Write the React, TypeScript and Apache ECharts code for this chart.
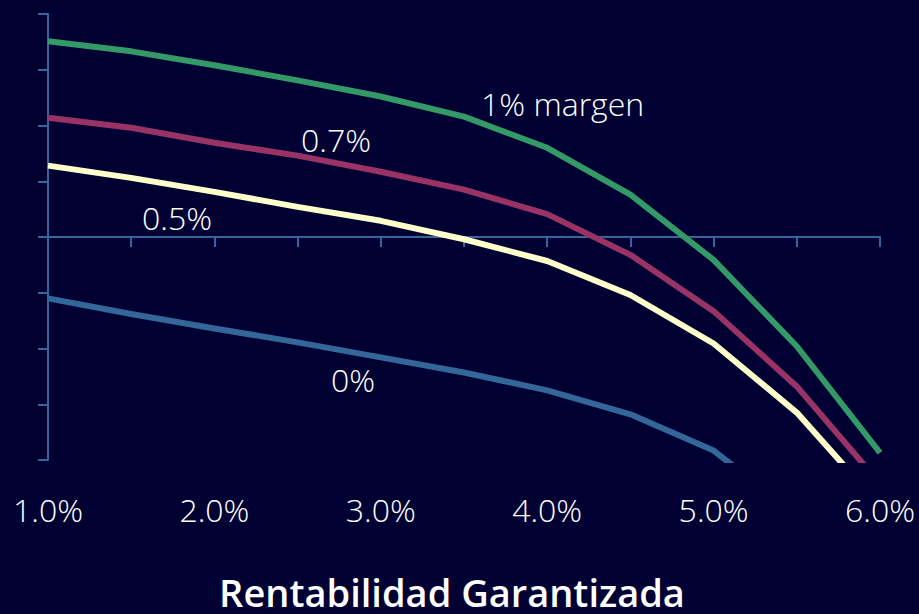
import React, { useEffect, useRef } from "react";
import * as echarts from "echarts";

const rates = [1.0, 1.5, 2.0, 2.5, 3.0, 3.5, 4.0, 4.5, 5.0, 5.5, 6.0];
const margin1 = [3.51, 3.33, 3.08, 2.81, 2.52, 2.16, 1.6, 0.76, -0.41, -1.96, -3.87];
const margin07 = [2.14, 1.96, 1.69, 1.46, 1.17, 0.85, 0.41, -0.32, -1.33, -2.68, -4.42];
const margin05 = [1.28, 1.06, 0.81, 0.54, 0.29, -0.04, -0.43, -1.04, -1.91, -3.15, -4.82];
const margin0 = [-1.1, -1.38, -1.64, -1.89, -2.16, -2.43, -2.75, -3.18, -3.83, -5.0, -6.2];
const seriesNames = ["1% margen", "0.7%", "0.5%", "0%"];
const xTitle = "Rentabilidad Garantizada";

const FONT = "'Open Sans', 'DejaVu Sans', sans-serif";

export default function App() {
  const ref = useRef<HTMLDivElement>(null);
  useEffect(() => {
    if (!ref.current) return;
    const chart = echarts.init(ref.current, undefined, { renderer: "svg" });
    const mk = (vals: number[]) => rates.map((r, i) => [r, vals[i]]);
    const lineSeries = (name: string, vals: number[], color: string) => ({
      name,
      type: "line",
      data: mk(vals),
      showSymbol: false,
      clip: true,
      lineStyle: { color, width: 6 },
      xAxisIndex: 0,
      yAxisIndex: 0,
    });
    const labelStyle = {
      fill: "#ffffff",
      font: `300 32px ${FONT}`,
      textAlign: "left",
      textVerticalAlign: "middle",
    };
    chart.setOption({
      animation: false,
      backgroundColor: "#000033",
      grid: { left: 48, right: 39, top: 14, bottom: 154 },
      xAxis: [
        {
          type: "value",
          min: 1,
          max: 6,
          interval: 0.5,
          axisLine: { onZero: true, lineStyle: { color: "#336699", width: 2 } },
          axisTick: { show: true, length: 10, inside: false, lineStyle: { color: "#336699", width: 2 } },
          axisLabel: { show: false },
          splitLine: { show: false },
        },
        {
          type: "value",
          min: 1,
          max: 6,
          interval: 1,
          position: "bottom",
          axisLine: { show: false, onZero: false },
          axisTick: { show: false },
          splitLine: { show: false },
          axisLabel: {
            show: true,
            margin: 33,
            color: "#ffffff",
            fontSize: 32,
            fontWeight: 300,
            fontFamily: FONT,
            formatter: (v: number) => v.toFixed(1) + "%",
          },
        },
      ],
      yAxis: {
        type: "value",
        min: -4,
        max: 4,
        interval: 1,
        axisLine: { show: true, onZero: false, lineStyle: { color: "#336699", width: 2 } },
        axisTick: { show: true, length: 10, lineStyle: { color: "#336699", width: 2 } },
        axisLabel: { show: false },
        splitLine: { show: false },
      },
      series: [
        lineSeries(seriesNames[0], margin1, "#339966"),
        lineSeries(seriesNames[1], margin07, "#993366"),
        lineSeries(seriesNames[2], margin05, "#FFFFCC"),
        lineSeries(seriesNames[3], margin0, "#336699"),
      ],
      graphic: [
        { type: "text", x: 481, y: 103, style: { ...labelStyle, text: seriesNames[0] } },
        { type: "text", x: 301, y: 139, style: { ...labelStyle, text: seriesNames[1] } },
        { type: "text", x: 142, y: 217, style: { ...labelStyle, text: seriesNames[2] } },
        { type: "text", x: 331, y: 379, style: { ...labelStyle, text: seriesNames[3] } },
        {
          type: "text",
          x: 452,
          y: 592,
          style: {
            text: xTitle,
            fill: "#ffffff",
            font: `600 38px ${FONT}`,
            textAlign: "center",
            textVerticalAlign: "middle",
          },
        },
      ],
    });
    return () => chart.dispose();
  }, []);
  return <div ref={ref} style={{ width: 919, height: 614, position: "absolute", left: 0, top: 0 }} />;
}
